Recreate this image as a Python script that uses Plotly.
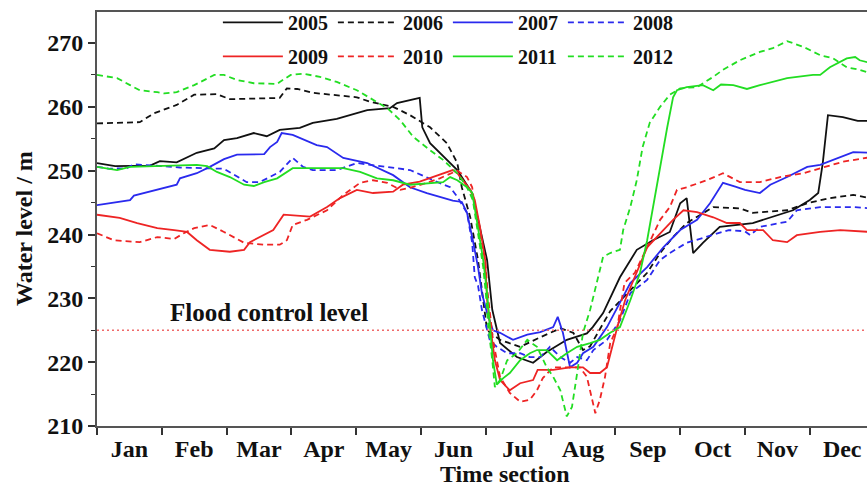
import plotly.graph_objects as go

# Month labels; x positions are in month units (0 = start of Jan)
months = ["Jan", "Feb", "Mar", "Apr", "May", "Jun",
          "Jul", "Aug", "Sep", "Oct", "Nov", "Dec"]
FLOOD_LEVEL = 225

x_2005 = [0.0, 0.28, 0.82, 0.97, 1.23, 1.54, 1.81, 1.96, 2.16, 2.42, 2.62, 2.82, 3.13, 3.33, 3.70, 4.17,
          4.52, 4.63, 4.98, 5.02, 5.14, 5.45, 5.56, 5.79, 5.91, 6.02, 6.10, 6.22, 6.48, 6.73, 6.94, 7.25,
          7.56, 7.65, 7.81, 7.96, 8.07, 8.33, 8.58, 8.84, 9.00, 9.10, 9.20, 9.35, 9.61, 10.12, 10.39,
          10.74, 11.00, 11.13, 11.20, 11.28, 11.51, 11.74, 11.93]
y_2005 = [251.2, 250.7, 250.8, 251.5, 251.3, 252.8, 253.5, 254.8, 255.1, 255.9, 255.4, 256.4, 256.7, 257.5,
          258.1, 259.5, 259.8, 260.6, 261.4, 256.8, 254.3, 251.2, 250.1, 246.5, 241.2, 236.0, 228.2, 223.0,
          220.8, 219.9, 221.6, 223.5, 224.5, 225.5, 227.7, 230.8, 233.3, 237.6, 239.1, 240.4, 244.9, 245.7,
          237.1, 238.7, 241.2, 241.8, 242.7, 243.8, 245.4, 246.5, 251.2, 258.7, 258.4, 257.8, 257.8]

x_2006 = [0.0, 0.66, 0.88, 1.23, 1.50, 1.85, 2.05, 2.82, 2.93, 3.09, 3.33, 4.01, 4.21, 4.57, 4.83, 5.14,
          5.40, 5.56, 5.63, 5.76, 5.88, 5.96, 6.02, 6.22, 6.53, 6.84, 7.15, 7.35, 7.50, 7.61, 7.92, 8.49,
          8.69, 8.89, 9.10, 9.51, 9.92, 10.12, 10.65, 10.96, 11.31, 11.67, 11.93]
y_2006 = [257.4, 257.6, 259.0, 260.3, 261.9, 262.0, 261.2, 261.4, 262.9, 262.8, 262.2, 261.5, 260.8, 260.0,
          258.7, 256.8, 254.3, 251.2, 247.4, 242.7, 236.0, 229.7, 225.0, 223.5, 222.4, 223.9, 225.3, 224.6,
          221.9, 222.5, 228.0, 234.0, 237.1, 239.6, 241.8, 244.3, 244.1, 243.4, 243.8, 244.9, 245.7, 246.2,
          245.7]

x_2007 = [0.0, 0.51, 0.57, 0.93, 1.23, 1.28, 1.54, 1.74, 1.96, 2.16, 2.58, 2.67, 2.78, 2.85, 3.02, 3.39,
          3.55, 3.80, 4.17, 4.57, 4.83, 5.09, 5.49, 5.63, 5.71, 5.80, 5.88, 5.94, 6.02, 6.11, 6.22, 6.42,
          6.64, 6.84, 7.04, 7.11, 7.19, 7.30, 7.41, 7.50, 7.66, 7.87, 8.03, 8.23, 8.49, 8.74, 9.00, 9.26,
          9.46, 9.66, 9.85, 10.00, 10.23, 10.39, 10.65, 10.96, 11.16, 11.47, 11.67, 11.93]
y_2007 = [244.6, 245.4, 246.1, 247.0, 247.8, 248.8, 249.6, 250.6, 251.8, 252.5, 252.6, 253.7, 254.5, 255.9,
          255.6, 254.0, 253.7, 252.0, 251.2, 249.3, 247.4, 246.5, 245.3, 245.1, 243.4, 239.1, 234.9, 230.8,
          227.7, 225.0, 224.6, 223.5, 224.3, 224.7, 225.5, 227.1, 224.6, 219.2, 219.9, 221.4, 222.4, 225.5,
          228.6, 232.4, 234.9, 238.0, 240.7, 242.3, 244.9, 248.1, 247.5, 247.0, 246.5, 247.8, 249.0, 250.6,
          250.9, 252.1, 252.9, 252.8]

x_2008 = [0.0, 0.20, 0.46, 0.57, 1.04, 1.28, 1.96, 2.31, 2.51, 2.78, 2.82, 3.02, 3.18, 3.33, 3.70, 4.01,
          4.48, 4.83, 5.19, 5.45, 5.56, 5.71, 5.79, 5.83, 5.88, 5.94, 6.06, 6.17, 6.33, 6.53, 6.68, 6.84,
          6.99, 7.15, 7.30, 7.41, 7.56, 7.66, 7.87, 8.07, 8.23, 8.49, 8.69, 8.84, 9.10, 9.51, 9.75, 10.00,
          10.08, 10.23, 10.65, 10.80, 11.16, 11.67, 11.93]
y_2008 = [250.6, 250.3, 250.4, 251.0, 250.7, 250.5, 250.3, 248.2, 248.2, 249.6, 249.8, 252.0, 250.6, 250.1,
          250.1, 251.2, 250.6, 250.1, 248.5, 247.4, 245.9, 243.4, 238.7, 233.3, 232.0, 228.2, 223.5, 222.4,
          221.4, 221.4, 220.8, 220.8, 222.4, 220.8, 219.9, 220.8, 220.3, 221.9, 223.5, 226.5, 230.8, 232.9,
          236.0, 237.1, 238.7, 239.9, 240.7, 240.5, 239.9, 241.2, 242.0, 243.8, 244.3, 244.3, 244.1]

x_2009 = [0.0, 0.35, 0.62, 0.93, 1.19, 1.39, 1.54, 1.74, 2.05, 2.27, 2.36, 2.58, 2.72, 2.88, 3.18, 3.29,
          3.55, 3.75, 4.01, 4.26, 4.57, 4.72, 4.98, 5.28, 5.49, 5.57, 5.76, 5.83, 5.91, 5.99, 6.02, 6.07,
          6.14, 6.22, 6.37, 6.53, 6.73, 6.80, 7.04, 7.30, 7.50, 7.61, 7.76, 7.87, 7.95, 8.03, 8.15, 8.33,
          8.49, 8.74, 8.89, 9.05, 9.26, 9.51, 9.72, 9.92, 10.03, 10.28, 10.43, 10.65, 10.80, 11.16, 11.47,
          11.93]
y_2009 = [243.1, 242.6, 241.8, 241.0, 240.7, 240.4, 239.1, 237.6, 237.3, 237.6, 238.8, 239.9, 240.7, 243.1,
          242.8, 242.8, 244.3, 245.7, 247.0, 246.5, 246.7, 247.8, 248.3, 249.3, 250.1, 249.5, 247.0, 245.4,
          241.2, 236.0, 229.7, 225.5, 220.3, 217.2, 215.6, 216.7, 217.2, 218.8, 218.8, 219.2, 219.2, 218.3,
          218.3, 219.2, 222.4, 225.5, 229.7, 234.0, 238.0, 240.7, 242.3, 243.8, 243.5, 242.7, 241.8, 241.8,
          240.7, 240.7, 239.1, 238.8, 239.9, 240.4, 240.7, 240.4]

x_2010 = [0.0, 0.26, 0.66, 0.93, 1.19, 1.34, 1.50, 1.74, 1.96, 2.27, 2.58, 2.82, 2.93, 3.02, 3.24, 3.55,
          3.80, 4.06, 4.26, 4.48, 4.68, 4.83, 5.09, 5.29, 5.56, 5.71, 5.79, 5.83, 5.91, 5.99, 6.03, 6.11,
          6.22, 6.37, 6.53, 6.68, 6.79, 6.88, 7.04, 7.30, 7.45, 7.56, 7.66, 7.69, 7.76, 7.84, 7.92, 8.03,
          8.14, 8.30, 8.49, 8.69, 8.84, 8.95, 9.10, 9.41, 9.66, 9.92, 10.23, 10.54, 10.90, 11.16, 11.51,
          11.93]
y_2010 = [240.2, 239.1, 238.8, 239.6, 239.3, 240.2, 241.0, 241.5, 240.4, 238.7, 238.4, 238.4, 239.1, 241.5,
          242.3, 243.8, 246.2, 248.1, 248.5, 248.1, 247.0, 247.3, 248.1, 248.8, 250.0, 249.0, 247.4, 244.3,
          240.2, 236.0, 230.8, 223.5, 217.7, 215.2, 213.8, 214.1, 215.6, 217.5, 219.2, 219.2, 219.2, 217.7,
          213.0, 212.0, 214.1, 217.7, 223.0, 225.5, 232.4, 234.0, 238.0, 242.3, 244.3, 247.0, 247.4, 248.5,
          249.6, 248.2, 248.2, 249.0, 249.6, 250.4, 251.4, 252.1]

x_2011 = [0.0, 0.31, 0.51, 1.04, 1.54, 1.70, 1.85, 2.05, 2.27, 2.42, 2.58, 2.78, 3.02, 3.80, 4.06, 4.32,
          4.57, 4.83, 5.09, 5.34, 5.45, 5.56, 5.71, 5.79, 5.86, 5.96, 6.02, 6.07, 6.11, 6.17, 6.27, 6.37,
          6.53, 6.68, 6.79, 6.94, 7.10, 7.25, 7.41, 7.61, 7.76, 7.92, 8.07, 8.23, 8.38, 8.49, 8.58, 8.69,
          8.80, 8.89, 8.95, 9.10, 9.35, 9.51, 9.63, 9.82, 10.03, 10.23, 10.65, 11.05, 11.16, 11.31, 11.57,
          11.70, 11.77, 11.93]
y_2011 = [250.6, 250.1, 250.6, 250.7, 250.9, 250.7, 249.8, 249.0, 247.8, 247.6, 248.2, 248.8, 250.4, 250.4,
          249.8, 248.8, 248.5, 247.8, 248.0, 248.2, 249.0, 248.5, 247.4, 246.5, 242.3, 236.0, 230.8, 225.5,
          220.3, 216.5, 217.5, 218.3, 220.3, 221.4, 221.9, 221.9, 220.3, 221.4, 222.4, 223.0, 223.5, 224.6,
          225.5, 229.7, 234.0, 239.1, 244.3, 250.6, 256.8, 261.5, 262.6, 263.1, 263.4, 262.6, 263.5, 263.4,
          262.8, 263.4, 264.5, 265.0, 265.0, 266.2, 267.6, 267.8, 267.3, 266.9]

x_2012 = [0.0, 0.31, 0.51, 0.66, 0.93, 1.04, 1.23, 1.50, 1.81, 1.96, 2.16, 2.42, 2.78, 2.82, 2.99, 3.18,
          3.44, 3.70, 4.01, 4.26, 4.48, 4.68, 4.88, 5.14, 5.34, 5.56, 5.71, 5.80, 5.88, 5.96, 6.00, 6.04,
          6.10, 6.14, 6.22, 6.33, 6.48, 6.64, 6.79, 6.94, 7.04, 7.15, 7.25, 7.33, 7.41, 7.50, 7.61, 7.72,
          7.81, 7.92, 8.07, 8.12, 8.23, 8.33, 8.42, 8.53, 8.69, 8.84, 9.00, 9.26, 9.51, 9.66, 9.92, 10.23,
          10.43, 10.65, 10.90, 11.16, 11.36, 11.57, 11.77, 11.93]
y_2012 = [265.0, 264.5, 263.4, 262.6, 262.3, 262.1, 262.3, 263.4, 265.0, 265.0, 264.2, 263.7, 263.6, 263.9,
          265.0, 265.2, 264.7, 263.9, 262.6, 261.1, 259.8, 257.9, 255.3, 253.2, 251.7, 249.6, 247.4, 245.4,
          240.2, 234.9, 230.8, 225.5, 220.3, 216.1, 217.2, 220.3, 221.4, 223.5, 222.4, 219.2, 217.7, 215.6,
          211.5, 213.0, 218.3, 224.6, 228.2, 232.9, 236.5, 237.1, 237.6, 240.7, 244.3, 248.5, 253.7, 257.5,
          260.0, 261.9, 262.9, 263.1, 264.7, 265.8, 267.3, 268.6, 269.2, 270.3, 269.4, 268.1, 267.6, 266.2,
          265.8, 265.3]

BLACK, BLUE, RED, GREEN = "#111111", "#2a2aee", "#ee2424", "#22dd22"
DASH = "6px,4px"

series = [
    ("2005", x_2005, y_2005, BLACK, "solid", "legend"),
    ("2006", x_2006, y_2006, BLACK, DASH, "legend"),
    ("2007", x_2007, y_2007, BLUE, "solid", "legend"),
    ("2008", x_2008, y_2008, BLUE, DASH, "legend"),
    ("2009", x_2009, y_2009, RED, "solid", "legend2"),
    ("2010", x_2010, y_2010, RED, DASH, "legend2"),
    ("2011", x_2011, y_2011, GREEN, "solid", "legend2"),
    ("2012", x_2012, y_2012, GREEN, DASH, "legend2"),
]

SERIF = "Liberation Serif"
axis_font = dict(family=SERIF, size=24, color="#111", weight="bold")

fig = go.Figure()
for name, xs, ys, color, dash, leg in series:
    fig.add_trace(go.Scatter(
        x=xs, y=ys, name=name, mode="lines", legend=leg,
        line=dict(color=color, width=1.8, dash=dash),
    ))

# Flood control reference line and its label
fig.add_hline(y=FLOOD_LEVEL, line=dict(color="#f06a6a", width=1.4, dash="2px,3px"))
fig.add_annotation(x=1.1, y=FLOOD_LEVEL, xref="x", yref="y", yshift=18,
                   text="Flood control level", showarrow=False,
                   xanchor="left", yanchor="middle",
                   font=dict(family=SERIF, size=25, color="#111", weight="bold"))

legend_common = dict(orientation="h", bgcolor="rgba(0,0,0,0)", borderwidth=0,
                     font=dict(family=SERIF, size=20, color="#111", weight="bold"),
                     entrywidth=40, entrywidthmode="pixels", itemwidth=60,
                     xanchor="left", yanchor="middle", tracegroupgap=0)

fig.update_layout(
    width=867, height=489,
    margin=dict(l=97, r=0, t=12, b=63),
    paper_bgcolor="white", plot_bgcolor="white",
    legend=dict(x=0.157, y=0.975, **legend_common),
    legend2=dict(x=0.157, y=0.893, **legend_common),
    xaxis=dict(
        range=[0, 770 / 64.8],
        tickmode="array", tickvals=[i + 0.5 for i in range(12)], ticktext=months,
        ticks="", ticklen=0, tickfont=axis_font,
        minor=dict(tickmode="array", tickvals=list(range(13)), ticks="outside",
                   ticklen=7, tickwidth=1.5, tickcolor="#333"),
        showgrid=False, zeroline=False,
        showline=True, linecolor="#555", linewidth=2, mirror=True,
    ),
    yaxis=dict(
        range=[210, 274.86],
        tickmode="array", tickvals=list(range(210, 271, 10)),
        ticks="outside", ticklen=7, tickwidth=1.5, tickcolor="#333",
        tickfont=axis_font,
        minor=dict(tickmode="array", tickvals=list(range(215, 271, 10)),
                   ticks="outside", ticklen=4, tickwidth=1.2, tickcolor="#333"),
        showgrid=False, zeroline=False,
        showline=True, linecolor="#555", linewidth=2,
    ),
)

# Axis titles, positioned in paper fractions of the plot area
fig.add_annotation(text="Water level / m", textangle=-90, showarrow=False,
                   xref="paper", yref="paper", xanchor="center", yanchor="middle",
                   x=(24 - 97) / 770, y=(426 - 229) / 414, font=axis_font)
fig.add_annotation(text="Time section", showarrow=False,
                   xref="paper", yref="paper", xanchor="center", yanchor="middle",
                   x=(505 - 97) / 770, y=(426 - 474) / 414, font=axis_font)

fig.write_html("out.html")
